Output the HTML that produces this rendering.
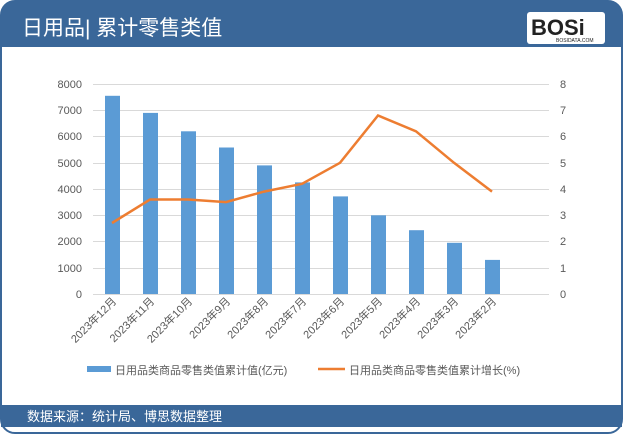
<!DOCTYPE html>
<html><head><meta charset="utf-8"><style>
body{margin:0;width:623px;height:434px;background:#fff;font-family:"Liberation Sans","Noto Sans CJK SC",sans-serif;overflow:hidden}
</style></head><body>
<svg width="623" height="434" xmlns="http://www.w3.org/2000/svg" font-family="Liberation Sans, Noto Sans CJK SC, sans-serif">
<rect x="1" y="1" width="621" height="432" rx="14" fill="#fff" stroke="#3a6799" stroke-width="2"/>
<path d="M1 15 a14 14 0 0 1 14 -14 H608 a14 14 0 0 1 14 14 V47 H1Z" fill="#3a6799"/>
<text x="22" y="35" font-size="21" fill="#fff">日用品| 累计零售类值</text>
<rect x="527" y="12" width="78" height="32" rx="3" fill="#fff"/>
<text x="531" y="35" font-size="22" font-weight="bold" fill="#222">BOSi</text>
<text x="556" y="42" font-size="5" fill="#222">BOSIDATA.COM</text>
<rect x="1" y="405" width="621" height="22" fill="#3a6799"/>
<text x="27" y="421" font-size="13" fill="#fff">数据来源：统计局、博思数据整理</text>
<g stroke="#d9d9d9" stroke-width="1">
<line x1="93" y1="84.5" x2="549" y2="84.5"/><line x1="93" y1="110.5" x2="549" y2="110.5"/><line x1="93" y1="136.5" x2="549" y2="136.5"/><line x1="93" y1="163.5" x2="549" y2="163.5"/><line x1="93" y1="189.5" x2="549" y2="189.5"/><line x1="93" y1="215.5" x2="549" y2="215.5"/><line x1="93" y1="241.5" x2="549" y2="241.5"/><line x1="93" y1="268.5" x2="549" y2="268.5"/><line x1="93" y1="294.5" x2="549" y2="294.5"/>
</g>
<g font-size="11" fill="#595959" text-anchor="end">
<text x="82" y="88">8000</text><text x="82" y="114">7000</text><text x="82" y="140">6000</text><text x="82" y="167">5000</text><text x="82" y="193">4000</text><text x="82" y="219">3000</text><text x="82" y="245">2000</text><text x="82" y="272">1000</text><text x="82" y="298">0</text>
</g>
<g font-size="11" fill="#595959">
<text x="560" y="88">8</text><text x="560" y="114">7</text><text x="560" y="140">6</text><text x="560" y="167">5</text><text x="560" y="193">4</text><text x="560" y="219">3</text><text x="560" y="245">2</text><text x="560" y="272">1</text><text x="560" y="298">0</text>
</g>
<g fill="#5b9bd5">
<rect x="105" y="95.8" width="15" height="198.2"/>
<rect x="143" y="112.9" width="15" height="181.1"/>
<rect x="181" y="131.3" width="15" height="162.7"/>
<rect x="219" y="147.5" width="15" height="146.5"/>
<rect x="257" y="165.4" width="15" height="128.6"/>
<rect x="295" y="182.4" width="15" height="111.6"/>
<rect x="333" y="196.4" width="15" height="97.6"/>
<rect x="371" y="215.3" width="15" height="78.7"/>
<rect x="409" y="230.2" width="15" height="63.8"/>
<rect x="447" y="242.8" width="15" height="51.2"/>
<rect x="485" y="259.9" width="15" height="34.1"/>
</g>
<polyline fill="none" stroke="#ed7d31" stroke-width="2.5" points="112,223 150,199.5 188,199.5 226,202.1 264,191.6 302,183.8 340,162.8 378,115.5 416,131.3 454,162.8 492,191.6"/>
<g font-size="11" fill="#595959" text-anchor="end">
<text transform="translate(117,302) rotate(-45)">2023年12月</text>
<text transform="translate(155,302) rotate(-45)">2023年11月</text>
<text transform="translate(193,302) rotate(-45)">2023年10月</text>
<text transform="translate(231,302) rotate(-45)">2023年9月</text>
<text transform="translate(269,302) rotate(-45)">2023年8月</text>
<text transform="translate(307,302) rotate(-45)">2023年7月</text>
<text transform="translate(345,302) rotate(-45)">2023年6月</text>
<text transform="translate(383,302) rotate(-45)">2023年5月</text>
<text transform="translate(421,302) rotate(-45)">2023年4月</text>
<text transform="translate(459,302) rotate(-45)">2023年3月</text>
<text transform="translate(497,302) rotate(-45)">2023年2月</text>
</g>
<rect x="87" y="366" width="24" height="6" fill="#5b9bd5"/>
<text x="115" y="374" font-size="11" fill="#595959">日用品类商品零售类值累计值(亿元)</text>
<line x1="318" y1="369" x2="345" y2="369" stroke="#ed7d31" stroke-width="2.5"/>
<text x="349" y="374" font-size="11" fill="#595959">日用品类商品零售类值累计增长(%)</text>
</svg>
</body></html>
